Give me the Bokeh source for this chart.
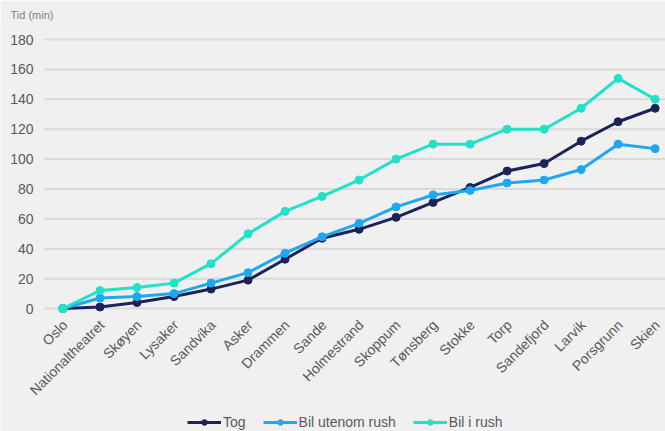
import math
from bokeh.plotting import figure
from bokeh.models import Range1d, Legend, LegendItem
from bokeh.core.properties import value
from bokeh.embed import file_html
from bokeh.resources import INLINE

stations = ["Oslo", "Nationaltheatret", "Skøyen", "Lysaker", "Sandvika", "Asker",
            "Drammen", "Sande", "Holmestrand", "Skoppum", "Tønsberg", "Stokke",
            "Torp", "Sandefjord", "Larvik", "Porsgrunn", "Skien"]
tog = [0, 1, 4, 8, 13, 19, 33, 47, 53, 61, 71, 81, 92, 97, 112, 125, 134]
bil_utenom = [0, 7, 8, 10, 17, 24, 37, 48, 57, 68, 76, 79, 84, 86, 93, 110, 107]
bil_rush = [0, 12, 14, 17, 30, 50, 65, 75, 86, 100, 110, 110, 120, 120, 134, 154, 140]
y_ticks = [0, 20, 40, 60, 80, 100, 120, 140, 160, 180]

series_names = ["Tog", "Bil utenom rush", "Bil i rush"]
colors = ["#1c2457", "#1ea8f4", "#1fe2c8"]

BG = "#f0f0f0"
FONT = "Liberation Sans"
LABEL_COLOR = "#595959"

xs = list(range(len(stations)))
X0, X1 = -0.5, 16.28          # left edge of the gridlines, right edge of canvas

# One frame covers the whole canvas below the title; value labels, station
# names, gridlines and the legend are all drawn inside it.
p = figure(frame_width=665, frame_height=406, output_backend="svg",
           toolbar_location=None,
           x_range=Range1d(-1.689, X1), y_range=Range1d(-82.3, 189.4),
           min_border_left=0, min_border_right=0, min_border_top=25,
           min_border_bottom=0, background_fill_color=BG,
           border_fill_color=BG, outline_line_color=None,
           title="Tid (min)")

p.title.text_font = FONT
p.title.text_font_size = "11px"
p.title.text_font_style = "normal"
p.title.text_color = "#7f7f7f"
p.title.align = "left"
p.title.offset = 10

p.xaxis.visible = False
p.yaxis.visible = False
p.xgrid.grid_line_color = None
p.ygrid.grid_line_color = None

# horizontal gridlines and their values
p.segment(x0=[X0] * len(y_ticks), x1=[X1] * len(y_ticks), y0=y_ticks, y1=y_ticks,
          line_color="#d9d9d9", line_width=2)
p.text(x=[X0] * len(y_ticks), y=y_ticks, text=[str(t) for t in y_ticks],
       text_align="right", text_baseline="middle", x_offset=-11,
       text_font=value(FONT), text_font_size="14px", text_color=LABEL_COLOR)

# station names, slanted under each point
p.text(x=xs, y=[0] * len(xs), text=stations, angle=math.pi / 4,
       text_align="right", text_baseline="middle", x_offset=2, y_offset=14,
       text_font=value(FONT), text_font_size="14px", text_color=LABEL_COLOR)

items = []
for name, vals, col in zip(series_names, [tog, bil_utenom, bil_rush], colors):
    r1 = p.line(xs, vals, line_color=col, line_width=3)
    r2 = p.scatter(xs, vals, size=8, fill_color=col, line_color=col)
    items.append(LegendItem(label=name, renderers=[r1, r2]))

legend = Legend(items=items, orientation="horizontal", location=(187, 1),
                background_fill_alpha=0,
                border_line_color=None, glyph_width=34, glyph_height=14,
                label_text_font=FONT, label_text_font_size="14px",
                label_text_color=LABEL_COLOR, spacing=17, label_standoff=2,
                padding=0, margin=0)
p.add_layout(legend)

open("out.html", "w").write(file_html(p, INLINE))
